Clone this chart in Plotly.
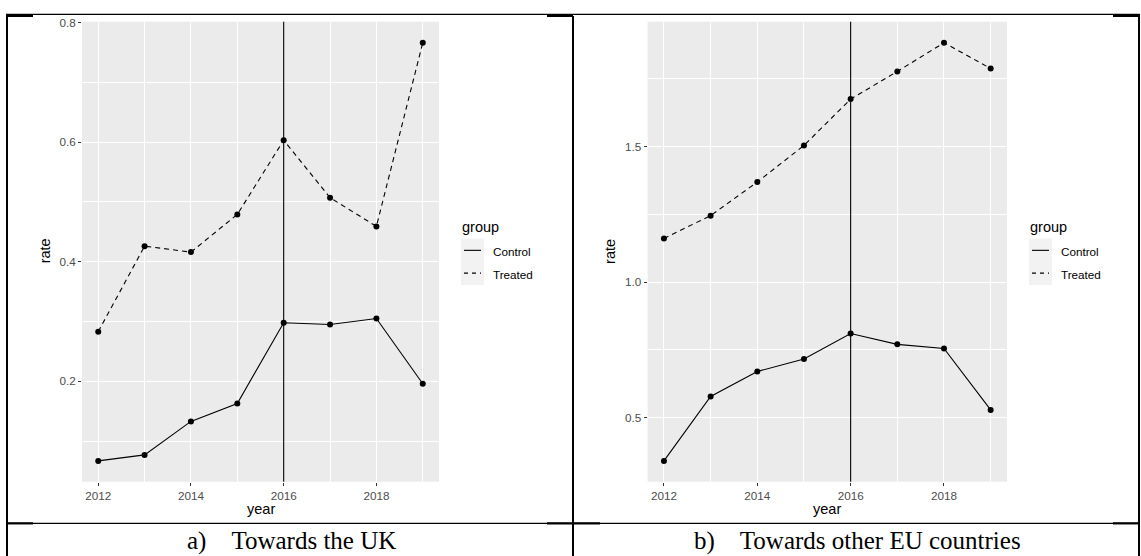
import plotly.graph_objects as go

# ---- data -------------------------------------------------------------
years = [2012, 2013, 2014, 2015, 2016, 2017, 2018, 2019]
uk_control = [0.067, 0.077, 0.133, 0.163, 0.298, 0.295, 0.305, 0.196]
uk_treated = [0.283, 0.426, 0.416, 0.479, 0.603, 0.507, 0.459, 0.766]
eu_control = [0.340, 0.578, 0.670, 0.716, 0.810, 0.770, 0.755, 0.528]
eu_treated = [1.161, 1.245, 1.369, 1.504, 1.675, 1.777, 1.883, 1.788]
policy_year = 2016
groups = ["Control", "Treated"]
captions = ["a)\u00a0\u00a0\u00a0\u00a0Towards the UK",
            "b)\u00a0\u00a0\u00a0\u00a0Towards other EU countries"]

# ---- page geometry (pixels) -------------------------------------------
W, H = 1141, 556
SANS = "Liberation Sans, Arial, sans-serif"
SERIF = "Liberation Serif, Times New Roman, serif"
PANEL_BG = "#EBEBEB"
TICK_TXT = "#4D4D4D"


def px(x):
    return x / W


def py(y):
    return 1 - y / H


def label(text, x, y, size, family=SANS, xanchor="center", angle=0,
          color="black"):
    return dict(text=text, x=px(x), y=py(y), xref="paper", yref="paper",
                xanchor=xanchor, yanchor="middle", showarrow=False,
                textangle=angle, font=dict(family=family, size=size,
                                           color=color))


panels = [
    dict(x0=82, x1=439, control=uk_control, treated=uk_treated, dtick=0.2,
         cell=(7, 573)),
    dict(x0=647.6, x1=1007, control=eu_control, treated=eu_treated, dtick=0.5,
         cell=(573, 1139)),
]
PLOT_TOP, PLOT_BOT = 16, 481

fig = go.Figure()
shapes = []
annotations = []

for i, p in enumerate(panels, start=1):
    xa = "x" if i == 1 else f"x{i}"
    ya = "y" if i == 1 else f"y{i}"
    vals = p["control"] + p["treated"]
    lo, hi = min(vals), max(vals)
    pad = 0.05 * (hi - lo)
    xpad = 0.05 * (max(years) - min(years))

    for name, series, dash in [(groups[0], p["control"], "solid"),
                               (groups[1], p["treated"], "5px,4px")]:
        fig.add_trace(go.Scatter(
            x=years, y=series, mode="lines", name=name, showlegend=False,
            line=dict(color="black", width=1.1, dash=dash),
            xaxis=xa, yaxis=ya, hoverinfo="skip"))
        fig.add_trace(go.Scatter(
            x=years, y=series, mode="markers", showlegend=False,
            marker=dict(color="black", size=6),
            xaxis=xa, yaxis=ya))

    axis_common = dict(
        showgrid=True, gridcolor="white", gridwidth=1.1,
        zeroline=False, showline=False,
        ticks="outside", ticklen=3, tickwidth=1, tickcolor="#333333",
        tickfont=dict(family=SANS, size=11.7, color=TICK_TXT),
    )
    fig.layout[f"xaxis{'' if i == 1 else i}"] = dict(
        axis_common, domain=[px(p["x0"]), px(p["x1"])],
        range=[min(years) - xpad, max(years) + xpad],
        tick0=2012, dtick=2, anchor=ya,
        minor=dict(tick0=2011, dtick=1, showgrid=True, gridcolor="white",
                   gridwidth=0.55),
    )
    fig.layout[f"yaxis{'' if i == 1 else i}"] = dict(
        axis_common, domain=[py(PLOT_BOT), py(PLOT_TOP)],
        range=[lo - pad, hi + pad], tick0=0, dtick=p["dtick"],
        tickformat=".1f", anchor=xa,
        minor=dict(tick0=0, dtick=p["dtick"] / 2, showgrid=True,
                   gridcolor="white", gridwidth=0.55),
    )

    # panel background
    shapes.append(dict(type="rect", xref=f"{xa} domain", yref=f"{ya} domain",
                       x0=0, x1=1, y0=0, y1=1, fillcolor=PANEL_BG,
                       line=dict(width=0), layer="below"))
    # vertical reference line at the policy year
    shapes.append(dict(type="line", xref=xa, yref=f"{ya} domain",
                       x0=policy_year, x1=policy_year, y0=0, y1=1,
                       line=dict(color="black", width=1.1)))

    # axis titles
    cx = (p["x0"] + p["x1"]) / 2
    annotations.append(label("year", cx, 508, 14.5))
    annotations.append(label("rate", p["x0"] - 37, 248, 14.5, angle=-90))

    # legend: title, grey key boxes, line keys, labels
    lx = p["x1"] + 22
    annotations.append(label("group", lx - 1, 223, 14.5, xanchor="left"))
    shapes.append(dict(type="rect", xref="paper", yref="paper",
                       x0=px(lx), x1=px(lx + 23), y0=py(282), y1=py(235),
                       fillcolor="#F2F2F2", line=dict(width=0)))
    for k, (name, dash) in enumerate([(groups[0], "solid"),
                                      (groups[1], "4px,4px")]):
        ky = 247 + 23 * k
        shapes.append(dict(type="line", xref="paper", yref="paper",
                           x0=px(lx + 3), x1=px(lx + 20), y0=py(ky), y1=py(ky),
                           line=dict(color="black", width=1.1, dash=dash)))
        annotations.append(label(name, lx + 30, ky + 1, 11.7, xanchor="left"))

    # caption cell text
    c0, c1 = p["cell"]
    annotations.append(label(captions[i - 1], (c0 + c1) / 2 + 1, 541, 25,
                             family=SERIF))

# ---- table frame ---------------------------------------------------------
def hline(y, x0, x1, w):
    shapes.append(dict(type="line", xref="paper", yref="paper",
                       x0=px(x0), x1=px(x1), y0=py(y), y1=py(y),
                       line=dict(color="black", width=w)))


def vline(x, y0, y1, w):
    shapes.append(dict(type="line", xref="paper", yref="paper",
                       x0=px(x), x1=px(x), y0=py(y0), y1=py(y1),
                       line=dict(color="black", width=w)))


hline(8.5, 6, 1140, 1.3)
hline(523, 6, 1140, 1.3)
for a, b in [(6, 33), (547, 600), (1113, 1140)]:
    hline(523, a, b, 2.2)
for a, b in [(6, 33), (547, 573), (1113, 1140)]:
    hline(10, a, b, 2.2)
vline(7, 8, 556, 2)
vline(573, 10, 556, 2)
vline(1139, 10, 556, 2)

fig.update_layout(
    width=W, height=H, margin=dict(l=0, r=0, t=0, b=0),
    paper_bgcolor="white", plot_bgcolor="rgba(0,0,0,0)",
    showlegend=False, shapes=shapes, annotations=annotations,
)

fig.write_html("out.html", config={"displayModeBar": False})
